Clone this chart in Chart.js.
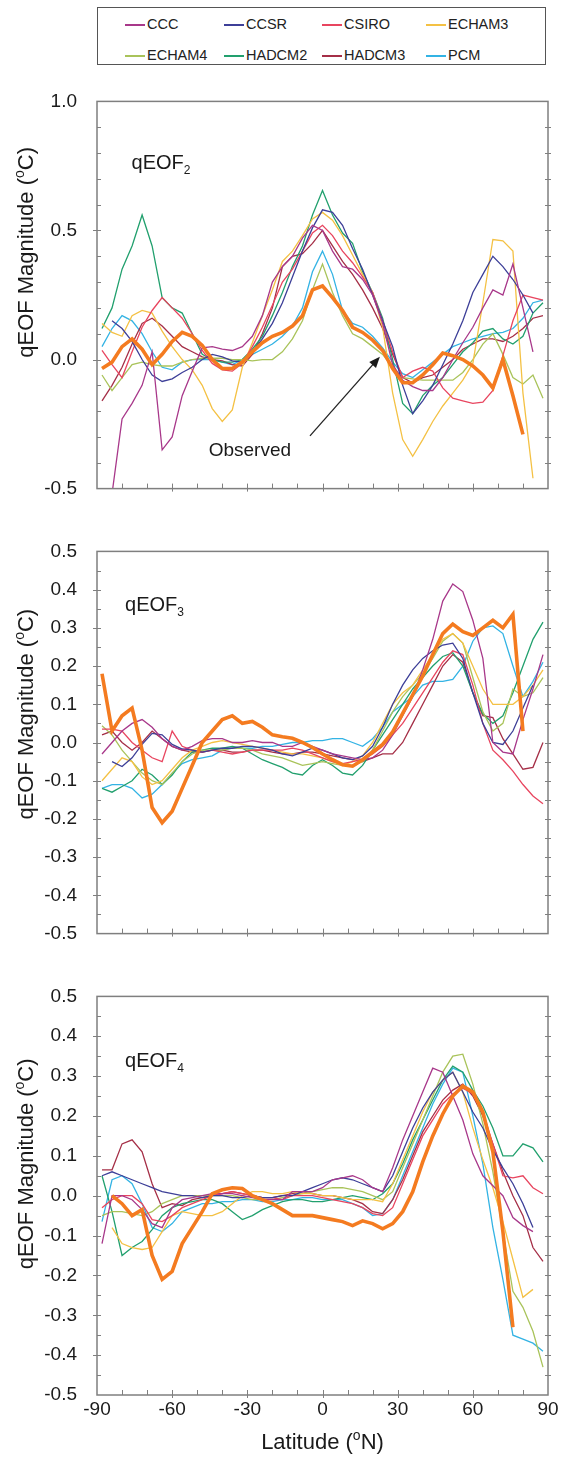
<!DOCTYPE html>
<html>
<head>
<meta charset="utf-8">
<script src="https://cdn.jsdelivr.net/npm/chart.js@4.4.1/dist/chart.umd.min.js"></script>
<style>
  body { margin: 0; background: #fff; width: 567px; height: 1467px; position: relative; overflow: hidden;
         font-family: "Liberation Sans", Arial, sans-serif; }
  .panel { position: absolute; left: 0; width: 567px; }
  #legend { position: absolute; left: 97px; top: 7px; width: 449px; height: 58px; border: 1px solid #555; box-sizing: border-box; }
  .item { position: absolute; height: 16px; font-size: 14.5px; line-height: 16px; color: #222; white-space: nowrap; }
  .item i { position: absolute; left: 0; top: 8px; width: 20px; height: 1.5px; }
  .item span { position: absolute; left: 22px; top: 0; }
</style>
</head>
<body>
<div id="legend"></div>
<div class="panel" style="top:70px;height:450px"><canvas id="p2"></canvas></div>
<div class="panel" style="top:520px;height:445px"><canvas id="p3"></canvas></div>
<div class="panel" style="top:965px;height:502px"><canvas id="p4"></canvas></div>
<script>
// latitude grid (deg N) shared by every series
const lats = [-88, -84, -80, -76, -72, -68, -64, -60, -56, -52, -48, -44, -40, -36, -32, -28, -24, -20, -16, -12, -8, -4,
              0, 4, 8, 12, 16, 20, 24, 28, 32, 36, 40, 44, 48, 52, 56, 60, 64, 68, 72, 76, 80, 84, 88];
const models = ['CCC', 'CCSR', 'CSIRO', 'ECHAM3', 'ECHAM4', 'HADCM2', 'HADCM3', 'PCM'];

// qEOF2
const q2_CCC    = [null, -0.52, -0.23, -0.17, -0.10, 0.03, -0.35, -0.30, -0.14, -0.045, 0.045, 0.05, 0.04, 0.035, 0.05, 0.09, 0.17, 0.30, 0.36, 0.40, 0.47, 0.52, 0.50, 0.42, 0.36, 0.35, 0.31, 0.25, 0.14, -0.02, -0.08, -0.105, -0.12, -0.12, -0.07, 0.0, 0.065, 0.125, 0.20, 0.27, 0.25, 0.37, 0.20, 0.03, null];
const q2_CCSR   = [null, 0.15, 0.12, 0.07, 0.0, -0.06, -0.085, -0.075, -0.05, -0.03, 0.0, 0.02, 0.01, -0.005, -0.01, 0.03, 0.08, 0.14, 0.22, 0.32, 0.42, 0.51, 0.58, 0.57, 0.52, 0.43, 0.35, 0.25, 0.15, 0.05, -0.10, -0.21, -0.16, -0.10, -0.02, 0.06, 0.15, 0.26, 0.33, 0.40, 0.36, 0.31, 0.25, 0.18, null];
const q2_CSIRO  = [0.035, -0.02, -0.07, 0.03, 0.125, 0.19, 0.24, 0.20, 0.16, 0.10, 0.035, -0.015, -0.04, -0.045, -0.015, 0.05, 0.125, 0.21, 0.30, 0.35, 0.42, 0.49, 0.52, 0.48, 0.42, 0.375, 0.32, 0.26, 0.15, 0.03, -0.07, -0.045, -0.03, -0.045, -0.11, -0.15, -0.16, -0.17, -0.165, -0.12, 0.015, 0.15, 0.25, 0.24, 0.23];
const q2_ECHAM3 = [0.14, 0.105, 0.09, 0.17, 0.19, 0.18, 0.11, 0.05, 0.0, -0.04, -0.10, -0.19, -0.24, -0.195, -0.03, 0.065, 0.17, 0.27, 0.38, 0.42, 0.48, 0.545, 0.57, 0.54, 0.48, 0.405, 0.33, 0.26, 0.125, -0.13, -0.31, -0.375, -0.31, -0.24, -0.18, -0.13, -0.08, -0.015, 0.22, 0.465, 0.46, 0.42, -0.13, -0.46, null];
const q2_ECHAM4 = [-0.06, -0.12, -0.07, -0.02, -0.01, -0.02, -0.025, -0.025, -0.01, 0.0, 0.005, 0.005, 0.005, 0.0, 0.0, -0.005, 0.0, 0.0, 0.03, 0.08, 0.15, 0.27, 0.37, 0.26, 0.17, 0.10, 0.08, 0.05, 0.02, -0.03, -0.07, -0.075, -0.08, -0.08, -0.08, -0.08, -0.05, 0.0, 0.06, 0.10, 0.02, -0.07, -0.095, -0.06, -0.15];
const q2_HADCM2 = [0.12, 0.20, 0.35, 0.44, 0.56, 0.44, 0.24, 0.20, 0.18, 0.10, 0.02, 0.0, -0.01, -0.01, 0.0, 0.04, 0.09, 0.17, 0.26, 0.36, 0.44, 0.56, 0.655, 0.56, 0.49, 0.45, 0.34, 0.26, 0.16, 0.0, -0.17, -0.21, -0.14, -0.10, -0.07, -0.02, 0.03, 0.065, 0.11, 0.12, 0.08, 0.06, 0.09, 0.18, 0.22];
const q2_HADCM3 = [-0.16, -0.10, -0.03, 0.06, 0.14, 0.16, 0.13, 0.09, 0.05, 0.03, 0.01, 0.0, -0.005, -0.02, -0.025, 0.02, 0.10, 0.20, 0.36, 0.40, 0.41, 0.45, 0.50, 0.44, 0.38, 0.33, 0.27, 0.20, 0.12, 0.02, -0.07, -0.09, -0.07, -0.06, -0.03, 0.0, 0.04, 0.06, 0.08, 0.08, 0.07, 0.09, 0.12, 0.16, 0.17];
const q2_PCM    = [0.05, 0.12, 0.17, 0.15, 0.10, 0.03, -0.03, -0.04, -0.01, 0.0, 0.0, 0.0, -0.01, -0.02, 0.0, 0.02, 0.04, 0.06, 0.09, 0.13, 0.20, 0.34, 0.42, 0.33, 0.19, 0.14, 0.125, 0.09, 0.045, -0.01, -0.055, -0.07, -0.04, -0.01, 0.02, 0.05, 0.065, 0.08, 0.09, 0.10, 0.105, 0.12, 0.16, 0.22, 0.23];
const q2_Obs    = [-0.035, -0.01, 0.05, 0.08, 0.04, -0.02, 0.02, 0.07, 0.105, 0.09, 0.055, 0.0, -0.035, -0.035, -0.01, 0.03, 0.065, 0.09, 0.105, 0.13, 0.17, 0.27, 0.285, 0.24, 0.19, 0.125, 0.105, 0.075, 0.035, -0.035, -0.09, -0.09, -0.06, -0.02, 0.025, 0.015, 0.0, -0.025, -0.06, -0.11, 0.0, -0.14, -0.29, null, null];

// qEOF3
const q3_CCC    = [-0.03, 0.0, 0.03, 0.05, 0.06, 0.04, 0.01, -0.01, -0.02, -0.01, 0.005, 0.01, 0.01, 0.0, 0.0, 0.005, 0.0, 0.0, -0.01, -0.01, 0.0, -0.01, -0.02, -0.03, -0.035, -0.04, -0.045, -0.04, -0.02, 0.02, 0.07, 0.12, 0.19, 0.27, 0.37, 0.415, 0.395, 0.32, 0.22, 0.0, -0.025, -0.03, 0.06, 0.14, 0.23];
const q3_CCSR   = [null, -0.05, -0.063, -0.04, -0.005, 0.024, 0.02, -0.005, -0.017, -0.02, -0.025, -0.02, -0.015, -0.015, -0.01, -0.01, -0.015, -0.02, -0.03, -0.035, -0.025, -0.015, -0.02, -0.03, -0.04, -0.045, -0.035, -0.01, 0.04, 0.10, 0.15, 0.19, 0.22, 0.24, 0.255, 0.26, 0.22, 0.13, 0.05, 0.0, -0.005, 0.03, 0.09, 0.15, null];
const q3_CSIRO  = [0.035, 0.035, 0.03, 0.0, -0.02, -0.04, -0.05, 0.03, -0.01, -0.02, -0.025, -0.02, -0.025, -0.03, -0.025, -0.02, -0.02, -0.02, -0.02, -0.015, -0.02, -0.03, -0.04, -0.05, -0.055, -0.05, -0.045, -0.03, -0.01, 0.02, 0.05, 0.09, 0.13, 0.17, 0.21, 0.24, 0.23, 0.15, 0.05, -0.02, -0.045, -0.075, -0.11, -0.14, -0.16];
const q3_ECHAM3 = [-0.10, -0.07, -0.04, -0.05, -0.09, -0.11, -0.10, -0.07, -0.04, -0.02, -0.01, 0.0, 0.005, 0.0, -0.005, -0.01, -0.015, -0.02, -0.025, -0.03, -0.03, -0.035, -0.04, -0.05, -0.06, -0.05, -0.035, 0.0, 0.05, 0.10, 0.13, 0.15, 0.19, 0.23, 0.27, 0.285, 0.26, 0.20, 0.14, 0.10, 0.10, 0.10, 0.12, 0.15, 0.19];
const q3_ECHAM4 = [0.044, 0.02, -0.02, -0.05, -0.08, -0.10, -0.11, -0.08, -0.05, -0.03, -0.02, -0.02, -0.02, -0.015, -0.015, -0.02, -0.03, -0.035, -0.04, -0.05, -0.06, -0.055, -0.05, -0.055, -0.06, -0.06, -0.05, -0.02, 0.03, 0.08, 0.12, 0.15, 0.18, 0.22, 0.265, 0.285, 0.26, 0.17, 0.08, 0.03, 0.05, 0.14, 0.12, 0.13, 0.17];
const q3_HADCM2 = [-0.12, -0.13, -0.115, -0.10, -0.07, -0.085, -0.11, -0.085, -0.05, -0.025, -0.02, -0.015, -0.015, -0.01, -0.015, -0.03, -0.045, -0.055, -0.065, -0.08, -0.085, -0.06, -0.045, -0.06, -0.08, -0.085, -0.06, -0.02, 0.02, 0.06, 0.10, 0.14, 0.17, 0.20, 0.225, 0.235, 0.20, 0.13, 0.075, 0.05, 0.07, 0.13, 0.20, 0.27, 0.315];
const q3_HADCM3 = [0.02, 0.03, 0.0, -0.02, 0.0, 0.03, 0.01, -0.01, -0.02, -0.025, -0.025, -0.02, -0.02, -0.025, -0.025, -0.02, -0.02, -0.025, -0.03, -0.03, -0.025, -0.025, -0.03, -0.035, -0.04, -0.045, -0.05, -0.04, -0.03, -0.03, 0.0, 0.05, 0.10, 0.15, 0.20, 0.23, 0.21, 0.13, 0.07, 0.065, 0.01, -0.03, -0.07, -0.065, 0.0];
const q3_PCM    = [-0.12, -0.11, -0.11, -0.12, -0.145, -0.135, -0.11, -0.08, -0.055, -0.045, -0.04, -0.035, -0.02, -0.015, -0.015, -0.015, -0.01, -0.01, -0.005, 0.0, 0.0, 0.005, 0.005, 0.01, 0.01, 0.0, -0.01, 0.01, 0.04, 0.08, 0.10, 0.12, 0.15, 0.16, 0.16, 0.165, 0.20, 0.265, 0.30, 0.305, 0.285, 0.20, 0.12, 0.16, 0.21];
const q3_Obs    = [0.18, 0.03, 0.07, 0.09, -0.02, -0.17, -0.21, -0.18, -0.12, -0.06, 0.0, 0.03, 0.06, 0.07, 0.05, 0.055, 0.04, 0.02, 0.015, 0.011, 0.0, -0.013, -0.03, -0.045, -0.058, -0.062, -0.045, -0.025, -0.005, 0.028, 0.076, 0.125, 0.174, 0.23, 0.285, 0.31, 0.29, 0.28, 0.30, 0.32, 0.30, 0.335, 0.03, null, null];

// qEOF4
const q4_CCC    = [-0.12, 0.0, 0.0, -0.01, -0.035, -0.07, -0.08, -0.03, -0.01, -0.005, 0.0, 0.005, 0.005, 0.005, 0.0, -0.005, -0.01, -0.01, -0.01, 0.01, 0.01, 0.01, 0.02, 0.04, 0.045, 0.05, 0.04, 0.02, 0.01, 0.07, 0.14, 0.20, 0.26, 0.32, 0.31, 0.25, 0.19, 0.105, 0.05, 0.025, 0.0, -0.055, -0.075, -0.09, null];
const q4_CCSR   = [0.05, 0.06, 0.05, 0.04, 0.03, 0.02, 0.01, 0.005, 0.0, 0.0, -0.005, 0.0, 0.0, -0.005, -0.005, 0.0, -0.005, -0.005, 0.0, 0.0, 0.01, 0.02, 0.03, 0.04, 0.045, 0.04, 0.03, 0.02, 0.01, 0.05, 0.11, 0.17, 0.22, 0.26, 0.29, 0.31, 0.26, 0.21, 0.17, 0.115, 0.07, 0.03, -0.02, -0.08, null];
const q4_CSIRO  = [-0.03, -0.01, 0.0, 0.0, -0.02, -0.06, -0.065, -0.05, -0.03, -0.02, -0.01, 0.0, 0.005, 0.01, 0.005, 0.0, -0.005, -0.005, -0.01, 0.0, 0.0, 0.0, -0.005, -0.01, -0.015, -0.02, -0.03, -0.045, -0.05, -0.03, 0.03, 0.09, 0.15, 0.19, 0.23, 0.255, 0.27, 0.255, 0.21, 0.13, 0.05, 0.045, 0.05, 0.02, 0.005];
const q4_ECHAM3 = [null, -0.08, -0.12, -0.13, -0.135, -0.13, -0.09, -0.05, -0.04, -0.045, -0.05, -0.05, -0.04, -0.02, 0.0, 0.01, 0.01, 0.005, 0.005, 0.01, 0.005, 0.005, 0.0, 0.0, -0.005, -0.01, -0.01, -0.01, -0.015, 0.03, 0.09, 0.15, 0.21, 0.26, 0.29, 0.31, 0.26, 0.17, 0.09, 0.02, -0.065, -0.16, -0.255, -0.235, null];
const q4_ECHAM4 = [-0.05, -0.04, -0.04, -0.045, -0.05, -0.04, -0.02, -0.01, 0.0, 0.0, 0.0, 0.0, 0.0, 0.0, -0.005, -0.01, -0.01, -0.01, -0.005, 0.0, 0.005, 0.01, 0.015, 0.02, 0.02, 0.015, 0.01, 0.0, -0.01, 0.01, 0.07, 0.13, 0.19, 0.25, 0.31, 0.35, 0.355, 0.28, 0.18, 0.06, -0.09, -0.24, -0.28, -0.34, -0.43];
const q4_HADCM2 = [0.05, -0.04, -0.15, -0.13, -0.115, -0.085, -0.05, -0.03, -0.02, -0.015, -0.01, -0.01, -0.02, -0.04, -0.06, -0.05, -0.035, -0.025, -0.015, -0.01, -0.01, -0.015, -0.015, -0.01, -0.005, 0.0, -0.005, -0.01, 0.005, 0.03, 0.08, 0.14, 0.19, 0.24, 0.29, 0.325, 0.31, 0.265, 0.225, 0.17, 0.10, 0.10, 0.13, 0.12, 0.085];
const q4_HADCM3 = [0.065, 0.065, 0.13, 0.14, 0.11, 0.03, -0.03, -0.02, -0.025, -0.01, -0.005, 0.0, 0.005, 0.01, 0.005, 0.0, -0.005, -0.005, 0.0, 0.005, 0.01, 0.005, 0.0, 0.0, -0.005, -0.01, -0.02, -0.04, -0.045, -0.01, 0.04, 0.10, 0.16, 0.20, 0.24, 0.265, 0.28, 0.25, 0.20, 0.13, 0.06, 0.0, -0.05, -0.13, -0.165];
const q4_PCM    = [-0.065, 0.04, 0.05, 0.03, -0.02, -0.08, -0.09, -0.07, -0.04, -0.03, -0.02, -0.02, -0.015, -0.015, -0.01, -0.01, -0.015, -0.015, -0.01, -0.01, -0.005, -0.005, -0.01, -0.01, -0.01, -0.02, -0.03, -0.05, -0.045, -0.01, 0.05, 0.11, 0.17, 0.23, 0.28, 0.32, 0.31, 0.20, 0.08, -0.08, -0.21, -0.35, -0.36, -0.37, -0.39];
const q4_Obs    = [null, 0.0, -0.02, -0.05, -0.035, -0.15, -0.21, -0.19, -0.12, -0.08, -0.04, 0.005, 0.015, 0.02, 0.018, 0.0, -0.01, -0.02, -0.035, -0.05, -0.05, -0.05, -0.055, -0.06, -0.065, -0.075, -0.063, -0.07, -0.083, -0.07, -0.04, 0.01, 0.085, 0.15, 0.205, 0.25, 0.275, 0.26, 0.21, 0.11, -0.09, -0.33, null, null, null];

const modelColors = ['#a8388a', '#3d3f98', '#e8455f', '#f4c144', '#a9c35a', '#22a06e', '#a52f47', '#33b3e4'];
const obsColor = '#f47b20';
const FONT = '"Liberation Sans", Arial, sans-serif';

Chart.defaults.font.family = FONT;
Chart.defaults.color = '#1a1a1a';

// legend (HTML, built from the model list)
const legendCols = [125, 224, 322, 426];
const legendRows = [24, 55];
const legend = document.getElementById('legend');
models.forEach((m, i) => {
  const el = document.createElement('div');
  el.className = 'item';
  el.style.left = (legendCols[i % 4] - 98) + 'px';
  el.style.top = (legendRows[Math.floor(i / 4)] - 8 - 8) + 'px';
  el.innerHTML = '<i style="background:' + modelColors[i] + '"></i><span>' + m + '</span>';
  legend.appendChild(el);
});

// text with sub/superscript pieces: parts = [[text, shift]], shift 1 = sup, -1 = sub
function rich(ctx, parts, x, y, size, align) {
  const fonts = parts.map(p => (p[1] ? Math.round(size * 0.62) : size) + 'px ' + FONT);
  const widths = parts.map((p, i) => { ctx.font = fonts[i]; return ctx.measureText(p[0]).width; });
  const total = widths.reduce((a, b) => a + b, 0);
  let cx = align === 'center' ? x - total / 2 : x;
  ctx.textAlign = 'left';
  ctx.textBaseline = 'alphabetic';
  parts.forEach((p, i) => {
    ctx.font = fonts[i];
    const dy = p[1] > 0 ? -size * 0.42 : p[1] < 0 ? size * 0.25 : 0;
    ctx.fillText(p[0], cx, y + dy);
    cx += widths[i];
  });
}

const decor = {
  id: 'decor',
  afterDraw(chart, args, o) {
    const { ctx, chartArea: a } = chart;
    const xs = chart.scales.x, ys = chart.scales.y;
    ctx.save();
    ctx.strokeStyle = '#7f7f7f';
    ctx.lineWidth = 1.5;
    ctx.strokeRect(a.left, a.top, a.right - a.left, a.bottom - a.top);

    ctx.lineWidth = 1;
    ctx.beginPath();
    for (let v = -80; v <= 80; v += 10) {
      const px = Math.round(xs.getPixelForValue(v)) + 0.5;
      const major = v % 30 === 0;
      ctx.moveTo(px, a.bottom + (major ? 3 : 0));
      ctx.lineTo(px, a.bottom - 5);
    }
    const n = Math.round((ys.max - ys.min) / o.minor);
    for (let k = 1; k < n; k++) {
      const v = ys.min + k * o.minor;
      const py = Math.round(ys.getPixelForValue(v)) + 0.5;
      const major = Math.abs(v / o.major - Math.round(v / o.major)) < 1e-6;
      ctx.moveTo(a.left - (major ? 4 : 0), py);
      ctx.lineTo(a.left + 4, py);
      ctx.moveTo(a.right - 3, py);
      ctx.lineTo(a.right + 3, py);
    }
    ctx.stroke();

    ctx.fillStyle = '#1a1a1a';
    // panel label
    rich(ctx, [['qEOF', 0], [o.index, -1]], xs.getPixelForValue(o.labelAt[0]), ys.getPixelForValue(o.labelAt[1]), 20, 'left');

    // y axis title
    ctx.save();
    ctx.translate(33, a.top + o.titleFrac * (a.bottom - a.top));
    ctx.rotate(-Math.PI / 2);
    rich(ctx, [['qEOF Magnitude (', 0], ['o', 1], ['C)', 0]], 0, 0, 22, 'center');
    ctx.restore();

    if (o.note) {
      rich(ctx, [['Observed', 0]], xs.getPixelForValue(-29), ys.getPixelForValue(-0.372), 19, 'center');
      const x0 = xs.getPixelForValue(-5), y0 = ys.getPixelForValue(-0.296);
      const x1 = xs.getPixelForValue(22.9), y1 = ys.getPixelForValue(0.011);
      const ang = Math.atan2(y1 - y0, x1 - x0);
      ctx.strokeStyle = '#222';
      ctx.lineWidth = 1.3;
      ctx.beginPath();
      ctx.moveTo(x0, y0);
      ctx.lineTo(x1 - 8 * Math.cos(ang), y1 - 8 * Math.sin(ang));
      ctx.stroke();
      ctx.beginPath();
      ctx.moveTo(x1, y1);
      ctx.lineTo(x1 - 11 * Math.cos(ang) + 4.5 * Math.sin(ang), y1 - 11 * Math.sin(ang) - 4.5 * Math.cos(ang));
      ctx.lineTo(x1 - 11 * Math.cos(ang) - 4.5 * Math.sin(ang), y1 - 11 * Math.sin(ang) + 4.5 * Math.cos(ang));
      ctx.closePath();
      ctx.fill();
    }

    if (o.xTitle) {
      rich(ctx, [['Latitude (', 0], ['o', 1], ['N)', 0]], (a.left + a.right) / 2, o.xTitleY, 22, 'center');
    }
    ctx.restore();
  }
};

function buildDatasets(series, obs) {
  const ds = models.map((m, i) => ({
    label: m,
    data: lats.map((x, j) => ({ x, y: series[i][j] })),
    borderColor: modelColors[i],
    borderWidth: 1.3,
    pointRadius: 0,
    tension: 0,
    order: 1
  }));
  ds.push({
    label: 'Observed',
    data: lats.map((x, j) => ({ x, y: obs[j] })),
    borderColor: obsColor,
    borderWidth: 3.6,
    pointRadius: 0,
    tension: 0,
    order: 0
  });
  return ds;
}

function fmt(v) {
  return (Math.abs(v) < 1e-9 ? 0 : v).toFixed(1);
}

function makePanel(id, cfg) {
  return new Chart(document.getElementById(id), {
    type: 'line',
    data: { datasets: buildDatasets(cfg.series, cfg.obs) },
    options: {
      animation: false,
      responsive: true,
      maintainAspectRatio: false,
      events: [],
      layout: { padding: cfg.padding },
      plugins: { legend: { display: false }, tooltip: { enabled: false }, decor: cfg.decor },
      scales: {
        x: {
          type: 'linear', min: -90, max: 90,
          grid: { display: false, drawTicks: false },
          border: { display: false },
          ticks: { display: cfg.showX, stepSize: 30, padding: 3, autoSkip: false, maxRotation: 0,
                   font: { size: 19 }, callback: v => String(v) },
          afterFit: s => { s.height = cfg.xHeight; }
        },
        y: {
          min: cfg.yMin, max: cfg.yMax,
          grid: { display: false, drawTicks: false },
          border: { display: false },
          ticks: { stepSize: cfg.yStep, padding: 20, font: { size: 19 }, callback: v => fmt(v) },
          afterFit: s => { s.width = 97; }
        }
      }
    },
    plugins: [decor]
  });
}

makePanel('p2', {
  series: [q2_CCC, q2_CCSR, q2_CSIRO, q2_ECHAM3, q2_ECHAM4, q2_HADCM2, q2_HADCM3, q2_PCM], obs: q2_Obs,
  yMin: -0.5, yMax: 1.0, yStep: 0.5, showX: false, xHeight: 0,
  padding: { top: 27, bottom: 12, left: 0, right: 19 },
  decor: { minor: 0.1, major: 0.5, index: '2', labelAt: [-76.2, 0.737], titleFrac: 0.39, note: true }
});
makePanel('p3', {
  series: [q3_CCC, q3_CCSR, q3_CSIRO, q3_ECHAM3, q3_ECHAM4, q3_HADCM2, q3_HADCM3, q3_PCM], obs: q3_Obs,
  yMin: -0.5, yMax: 0.5, yStep: 0.1, showX: false, xHeight: 0,
  padding: { top: 19, bottom: 15, left: 0, right: 19 },
  decor: { minor: 0.05, major: 0.1, index: '3', labelAt: [-78.8, 0.344], titleFrac: 0.426 }
});
makePanel('p4', {
  series: [q4_CCC, q4_CCSR, q4_CSIRO, q4_ECHAM3, q4_ECHAM4, q4_HADCM2, q4_HADCM3, q4_PCM], obs: q4_Obs,
  yMin: -0.5, yMax: 0.5, yStep: 0.1, showX: true, xHeight: 72,
  padding: { top: 17, bottom: 0, left: 0, right: 19 },
  decor: { minor: 0.05, major: 0.1, index: '4', labelAt: [-78.8, 0.323], titleFrac: 0.42, xTitle: true, xTitleY: 484 }
});
</script>
</body>
</html>
